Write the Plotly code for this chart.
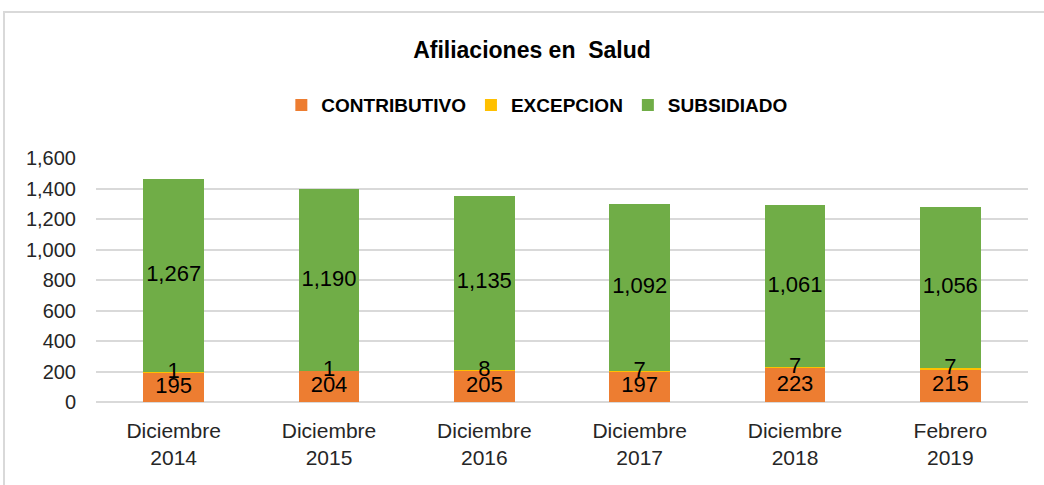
import plotly.graph_objects as go

periodos = ['Diciembre<br>2014', 'Diciembre<br>2015', 'Diciembre<br>2016',
            'Diciembre<br>2017', 'Diciembre<br>2018', 'Febrero<br>2019']
contributivo = [195, 204, 205, 197, 223, 215]
excepcion = [1, 1, 8, 7, 7, 7]
subsidiado = [1267, 1190, 1135, 1092, 1061, 1056]

fuente = 'Liberation Sans Narrow, Arial Narrow, Liberation Sans, Arial, sans-serif'
colores = {'CONTRIBUTIVO': '#ed7d31', 'EXCEPCION': '#ffc000', 'SUBSIDIADO': '#70ad47'}

fig = go.Figure()
series = [('CONTRIBUTIVO', contributivo), ('EXCEPCION', excepcion), ('SUBSIDIADO', subsidiado)]
base = [0] * len(periodos)
for nombre, valores in series:
    fig.add_trace(go.Bar(x=periodos, y=valores, name=nombre, marker_color=colores[nombre],
                         marker_line_width=0, width=0.39))
    # etiquetas centradas en cada segmento
    medios = [b + v / 2 for b, v in zip(base, valores)]
    fig.add_trace(go.Scatter(x=periodos, y=medios, mode='text',
                             text=[f'{v:,}' for v in valores], showlegend=False,
                             textfont=dict(family=fuente, size=22, color='#000000'),
                             hoverinfo='skip'))
    base = [b + v for b, v in zip(base, valores)]

fig.update_layout(
    barmode='stack',
    width=1044, height=485,
    margin=dict(l=96, r=16, t=158, b=83),
    plot_bgcolor='white', paper_bgcolor='white',
    font=dict(family=fuente, size=20, color='#262626'),
    title=dict(text='<b>Afiliaciones en  Salud</b>', x=532 / 1044, xanchor='center',
               y=1 - 50 / 485, yanchor='middle', yref='container',
               font=dict(family=fuente, size=23, color='#000000')),
    legend=dict(orientation='h', x=0.473, xanchor='center', y=1.217, yanchor='middle',
                font=dict(family=fuente, size=19, color='#000000', weight='bold'),
                itemwidth=30, traceorder='normal'),
    showlegend=True,
)
fig.update_yaxes(range=[0, 1600], dtick=200, tickformat=',', showgrid=True,
                 gridcolor='#d9d9d9', gridwidth=2, zeroline=True, zerolinecolor='#d9d9d9',
                 zerolinewidth=2, ticks='', showline=False, tickfont=dict(size=20),
                 ticklabelstandoff=19)
fig.update_xaxes(showgrid=False, ticks='', showline=False, tickfont=dict(size=21),
                 ticklabelstandoff=14)

# marco gris del grafico
fig.add_shape(type='rect', xref='paper', yref='paper',
              x0=-92 / 932, x1=1.2, y0=-0.5, y1=390 / 244,
              line=dict(color='#d9d9d9', width=2), fillcolor='rgba(0,0,0,0)', layer='below')

# quitar el margen del body para que la figura quede en la esquina
fig.write_html('out.html', config={'displayModeBar': False},
               post_script="document.body.style.margin='0';")
